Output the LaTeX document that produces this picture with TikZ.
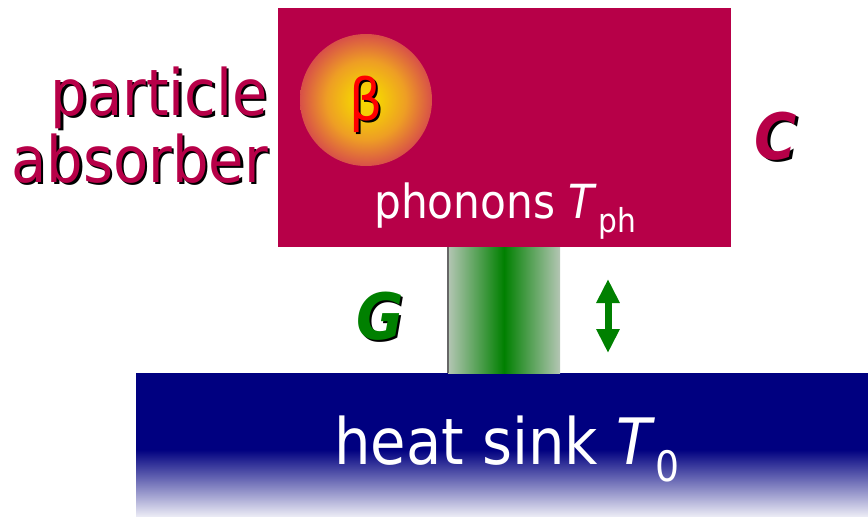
\documentclass[tikz,border=0pt]{standalone}
\usepackage{fontspec}
\setmainfont{DejaVu Sans Condensed}
\usetikzlibrary{positioning, arrows.meta, calc, backgrounds}

\definecolor{absorbred}{RGB}{183,0,72}
\definecolor{sinkblue}{RGB}{0,0,128}
\definecolor{linkgreen}{RGB}{0,128,0}
\definecolor{linkgray}{RGB}{180,198,180}
\definecolor{hotyellow}{RGB}{246,216,0}
\definecolor{hotorange}{RGB}{238,158,36}
\definecolor{hotedge}{RGB}{216,80,72}
\pgfdeclareradialshading{hotspot}{\pgfpoint{0bp}{0bp}}{color(0bp)=(hotyellow); color(5bp)=(hotyellow!85!hotorange); color(15bp)=(hotorange); color(25bp)=(hotedge); color(50bp)=(hotedge)}

\newcommand{\fsz}[1]{\fontsize{#1}{#1}\selectfont}

\begin{document}
\begin{tikzpicture}[
        x=1pt, y=-1pt,
        block/.style={inner sep=0pt, outer sep=0pt, minimum width=#1},
        txt/.style={inner sep=0pt, font=\fsz{#1}},
        txt/.default=64,
        bigsym/.style={inner sep=0pt, font=\fsz{64}\bfseries\itshape},
        heatflow/.style={{Triangle[width=22pt,length=24pt]}-{Triangle[width=22pt,length=24pt]}, line width=7pt, linkgreen},
    ]
    \useasboundingbox (0,0) rectangle (868,517);

    % Heat sink
    \node[block=732pt, minimum height=77pt, fill=sinkblue, anchor=north west] (sink) at (136,373) {};
    \node[block=732pt, minimum height=68pt, top color=sinkblue, bottom color=sinkblue!6, anchor=north west] (sinkfade) at (136,449.5) {};
    \node[txt=64, text=white, anchor=base west] (sinklbl) at (334,464) {heat sink \textit{T}\raisebox{-17pt}{\fsz{42}0}};

    % Absorber
    \node[block=453pt, minimum height=239pt, fill=absorbred, anchor=north west] (abs) at (278,8) {};
    \node[circle, inner sep=0pt, minimum size=132pt, shading=hotspot] (spot) at (366,100) {};
    \node[txt=58, text=black] (betaS) at (368,106.5) {β};
    \node[txt=58, text=red] (beta) at (366,104.5) {β};
    \node[txt=47, text=white, anchor=base west] (phon) at (374,218) {phonons \textit{T}\kern1pt\raisebox{-14pt}{\fsz{33}ph}};

    % Thermal link
    \node[block=112pt, minimum height=126pt, left color=linkgray, right color=linkgray, middle color=linkgreen, anchor=north west] (link) at (448,247) {};
    \draw[line width=1.2pt, black!60] (link.north west) -- (link.south west);
    \coordinate (flowtop) at (608,279);
    \coordinate (flowbot) at (608,353);
    \draw[heatflow] (flowtop) -- (flowbot);

    % Labels with drop shadow
    \node[txt, text=black, anchor=base east] (partS) at (270.5,117.5) {particle};
    \node[txt, text=absorbred, anchor=base east] (part) at (268,115) {particle};
    \node[txt, text=black, anchor=base east] (absbS) at (270.5,184.5) {absorber};
    \node[txt, text=absorbred, anchor=base east] (absb) at (268,182) {absorber};
    \node[bigsym, text=black] (capS) at (778.5,138.5) {C};
    \node[bigsym, text=absorbred] (cap) at (776,136) {C};
    \node[bigsym, text=black] (condS) at (382.5,318.5) {G};
    \node[bigsym, text=linkgreen] (cond) at (380,316) {G};
\end{tikzpicture}
\end{document}
